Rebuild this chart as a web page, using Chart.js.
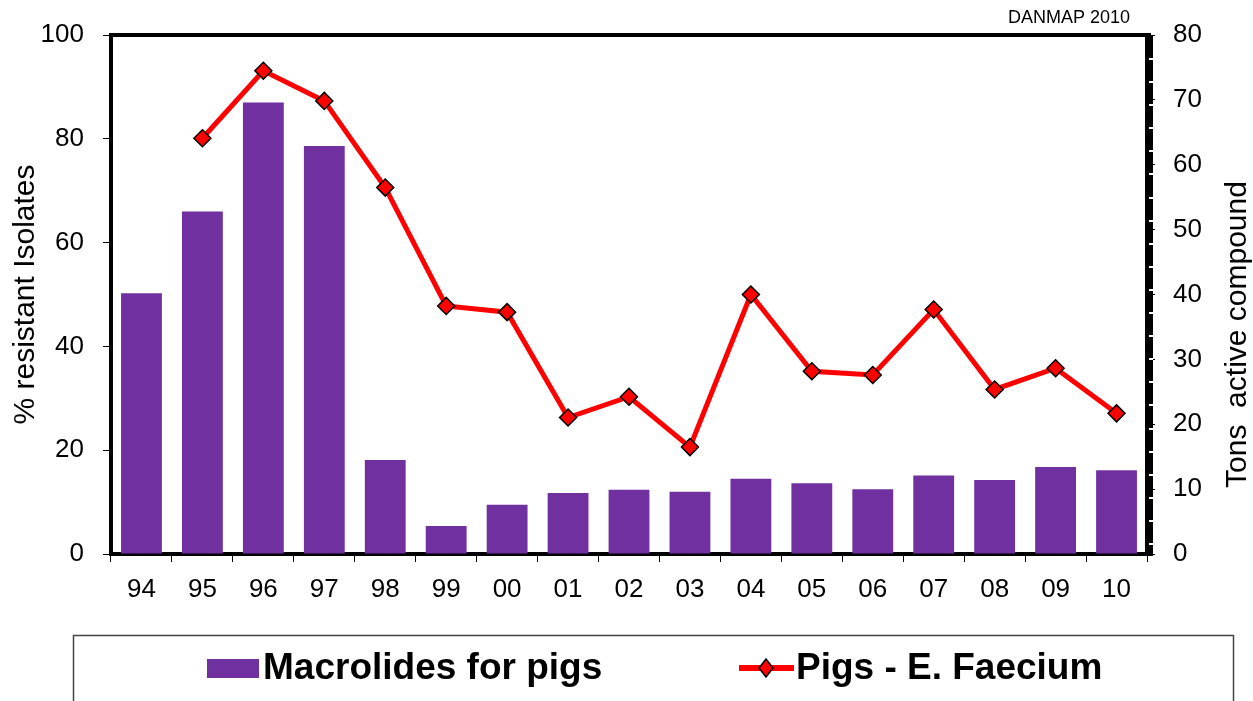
<!DOCTYPE html>
<html>
<head>
<meta charset="utf-8">
<title>DANMAP 2010 - Macrolides for pigs</title>
<script src="https://cdn.jsdelivr.net/npm/chart.js@4.4.0/dist/chart.umd.min.js"></script>
<style>
    html, body { margin: 0; padding: 0; background: #fff; }
    #wrap { width: 1253px; height: 701px; }
</style>
</head>
<body>
<div id="wrap"><canvas id="macrolideChart" width="1253" height="701"></canvas></div>
<script>
// years shown on the x axis
const years = ['94', '95', '96', '97', '98', '99', '00', '01', '02', '03', '04', '05', '06', '07', '08', '09', '10'];

// tons active compound (right axis)
const macrolideTons = [40.2, 52.8, 69.6, 62.9, 14.5, 4.3, 7.6, 9.4, 9.9, 9.6, 11.6, 10.9, 10.0, 12.1, 11.4, 13.4, 12.9];

// % resistant isolates (left axis), no data for 94
const faeciumResistant = [null, 80.1, 93.1, 87.3, 70.6, 47.8, 46.6, 26.3, 30.3, 20.6, 50.0, 35.2, 34.5, 47.1, 31.7, 35.8, 27.1];

const leftAxisRange = [0, 100];
const rightAxisRange = [0, 80];

const barLabel = 'Macrolides for pigs';
const lineLabel = 'Pigs - E. Faecium';
const sourceNote = 'DANMAP 2010';
const leftTitle = '% resistant Isolates';
const rightTitle = 'Tons  active compound';

const FONT = '"Liberation Sans", Arial, sans-serif';
const PURPLE = '#7030A0';
const RED = '#FF0000';

Chart.defaults.font.family = FONT;
Chart.defaults.color = '#000';

// frame, right axis band, source note, right title and legend box
const decorations = {
    id: 'decorations',
    afterDraw(chart) {
        const ctx = chart.ctx;
        const area = chart.chartArea;
        ctx.save();

        // thick top edge of the plot frame
        ctx.fillStyle = '#000';
        ctx.fillRect(area.left - 2, area.top - 2, area.right - area.left + 6, 4);

        // right axis drawn as a thick notched band
        ctx.fillRect(area.right - 2, area.top, 8, area.bottom - area.top + 2);
        ctx.fillStyle = '#fff';
        const firstNotch = area.top + 23;
        const lastNotch = area.bottom - 11;
        const count = 21;
        for (let i = 0; i <= count; i++) {
            const y = firstNotch + (lastNotch - firstNotch) * i / count;
            ctx.fillRect(area.right + 2, Math.round(y), 4, 2);
        }

        // source note
        ctx.fillStyle = '#000';
        ctx.font = '18px ' + FONT;
        ctx.textAlign = 'right';
        ctx.textBaseline = 'middle';
        ctx.fillText(sourceNote, 1130, 18);

        // right axis title, reading bottom to top
        ctx.save();
        ctx.translate(1238, (area.top + area.bottom) / 2 + 40);
        ctx.rotate(-Math.PI / 2);
        ctx.font = '30px ' + FONT;
        ctx.textAlign = 'center';
        ctx.textBaseline = 'middle';
        ctx.fillText(rightTitle, 0, 0);
        ctx.restore();

        // legend box
        ctx.strokeStyle = '#444';
        ctx.lineWidth = 1.5;
        ctx.strokeRect(73.5, 635.5, 1160, 90);

        const midY = 668;
        ctx.font = 'bold 37px ' + FONT;
        ctx.textAlign = 'left';
        ctx.textBaseline = 'middle';

        const bars = chart.data.datasets[1];
        ctx.fillStyle = bars.backgroundColor;
        ctx.fillRect(207, midY - 9, 52, 19);
        ctx.fillStyle = '#000';
        ctx.fillText(bars.label, 263, midY + 1);

        const line = chart.data.datasets[0];
        ctx.strokeStyle = line.borderColor;
        ctx.lineWidth = 6;
        ctx.beginPath();
        ctx.moveTo(739, midY);
        ctx.lineTo(794, midY);
        ctx.stroke();
        ctx.beginPath();
        ctx.moveTo(766, midY - 9);
        ctx.lineTo(773, midY);
        ctx.lineTo(766, midY + 9);
        ctx.lineTo(759, midY);
        ctx.closePath();
        ctx.fillStyle = line.pointBackgroundColor;
        ctx.fill();
        ctx.strokeStyle = '#000';
        ctx.lineWidth = 1.5;
        ctx.stroke();
        ctx.fillStyle = '#000';
        ctx.fillText(line.label, 796, midY + 1);

        ctx.restore();
    }
};

const ctx = document.getElementById('macrolideChart').getContext('2d');

new Chart(ctx, {
    type: 'bar',
    data: {
        labels: years,
        datasets: [
            {
                type: 'line',
                label: lineLabel,
                data: faeciumResistant,
                yAxisID: 'y',
                order: 0,
                borderColor: RED,
                borderWidth: 5,
                tension: 0,
                pointStyle: 'rectRot',
                pointRadius: 8.5,
                pointBackgroundColor: RED,
                pointBorderColor: '#000',
                pointBorderWidth: 1.5
            },
            {
                type: 'bar',
                label: barLabel,
                data: macrolideTons,
                yAxisID: 'y1',
                order: 1,
                backgroundColor: PURPLE,
                barPercentage: 0.67,
                categoryPercentage: 1.0
            }
        ]
    },
    options: {
        responsive: false,
        animation: false,
        devicePixelRatio: 1,
        layout: {
            padding: { top: 35, bottom: 81, left: 0, right: 0 }
        },
        plugins: {
            legend: { display: false },
            tooltip: { enabled: false }
        },
        scales: {
            x: {
                grid: { offset: true, drawOnChartArea: false, tickLength: 8, color: '#000', lineWidth: 1 },
                border: { color: '#000', width: 4 },
                ticks: { font: { size: 26 }, color: '#000', padding: 12, maxRotation: 0, autoSkip: false },
                afterFit(scale) { scale.height = 66; }
            },
            y: {
                position: 'left',
                min: leftAxisRange[0],
                max: leftAxisRange[1],
                grid: { drawOnChartArea: false, tickLength: 8, color: '#000', lineWidth: 1 },
                border: { color: '#000', width: 4 },
                ticks: { stepSize: 20, font: { size: 26 }, color: '#000', padding: 19 },
                title: {
                    display: true,
                    text: leftTitle,
                    font: { size: 30, lineHeight: 1 },
                    color: '#000',
                    padding: { top: 11, bottom: 0 }
                },
                afterFit(scale) { scale.width = 111; }
            },
            y1: {
                position: 'right',
                min: rightAxisRange[0],
                max: rightAxisRange[1],
                grid: { drawOnChartArea: false, tickLength: 8, color: '#000', lineWidth: 1 },
                border: { display: false },
                ticks: { stepSize: 10, font: { size: 26 }, color: '#000', padding: 18 },
                afterFit(scale) { scale.width = 106; }
            }
        }
    },
    plugins: [decorations]
});
</script>
</body>
</html>
